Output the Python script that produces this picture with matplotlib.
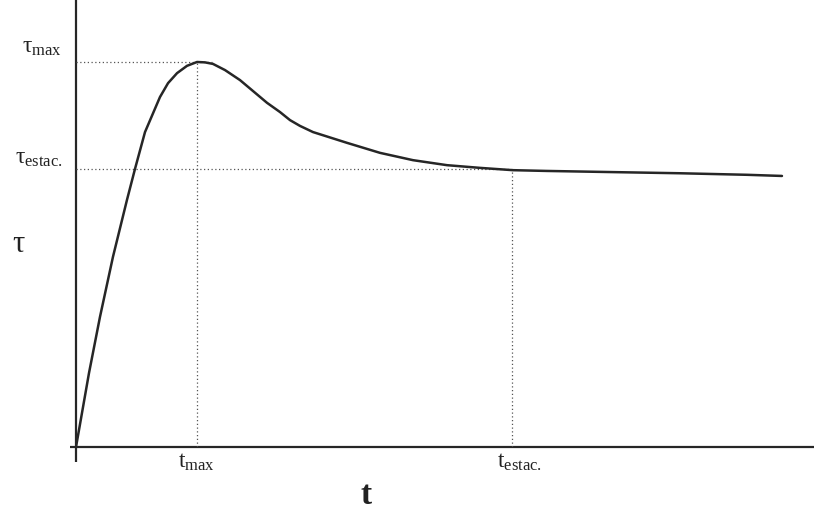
#!/usr/bin/env python3
"""Shear stress vs time sketch: overshoot to tau_max, then settles to tau_estac."""

import matplotlib.pyplot as plt
import numpy as np

plt.rcParams['mathtext.fontset'] = 'custom'
plt.rcParams['mathtext.rm'] = 'Liberation Serif'
plt.rcParams['mathtext.it'] = 'Liberation Serif'
plt.rcParams['font.family'] = ['Liberation Serif', 'DejaVu Serif']

# curve (arbitrary units)
t_vals = [0.0, 0.176, 0.325, 0.501, 0.691, 0.799, 0.935, 1.138, 1.247, 1.369,
          1.504, 1.64, 1.748, 1.856, 2.019, 2.222, 2.588, 2.764, 2.9, 3.035,
          3.211, 3.672, 4.119, 4.566, 5.027, 5.474, 5.921, 6.382, 7.276, 8.184,
          9.092, 9.566]
tau_vals = [0.0, 0.192, 0.338, 0.494, 0.642, 0.722, 0.818, 0.909, 0.945, 0.971,
            0.99, 1.0, 0.999, 0.995, 0.979, 0.953, 0.894, 0.87, 0.849, 0.834,
            0.818, 0.79, 0.764, 0.745, 0.732, 0.725, 0.719, 0.717, 0.714, 0.711,
            0.707, 0.704]

# marked points
t_max = 1.64
tau_max = 1.0
t_estac = 5.91
tau_estac = 0.722

T_LIM = 10.0
TAU_LIM = 1.161
INK = '#262626'
DOT = '#555555'

fig = plt.figure(figsize=(8.14, 5.13), dpi=100)
ax = fig.add_axes([76 / 814, 66 / 513, 738 / 814, 447 / 513])
ax.set_xlim(0, T_LIM)
ax.set_ylim(0, TAU_LIM)
ax.axis('off')

# axes drawn by hand so they can poke past the origin
ax.plot([-0.08, T_LIM], [0, 0], color=INK, lw=1.6, clip_on=False,
        solid_capstyle='butt')
ax.plot([0, 0], [-0.04, TAU_LIM], color=INK, lw=1.6, clip_on=False,
        solid_capstyle='butt')

# dotted guide lines
dots = dict(color=DOT, lw=0.9, linestyle=(0, (1, 2)))
ax.plot([0, t_max + 0.2], [tau_max, tau_max], **dots)
ax.plot([t_max, t_max], [0, tau_max], **dots)
ax.plot([0, t_estac], [tau_estac, tau_estac], **dots)
ax.plot([t_estac, t_estac], [0, tau_estac], **dots)

ax.plot(np.array(t_vals), np.array(tau_vals), color=INK, lw=1.8,
        solid_joinstyle='round', solid_capstyle='round')

# tick-like labels
lab = dict(textcoords='offset pixels', fontsize=17, color='#222222',
           annotation_clip=False)
ax.annotate(r'$\tau_{\mathrm{max}}$', xy=(0, tau_max), xytext=(-54, 9),
            ha='left', va='baseline', **lab)
ax.annotate(r'$\tau_{\mathrm{estac.}}$', xy=(0, tau_estac), xytext=(-61, 5),
            ha='left', va='baseline', **lab)
ax.annotate(r'$\mathrm{t}_{\mathrm{max}}$', xy=(t_max, 0), xytext=(-19, -21),
            ha='left', va='baseline', **lab)
ax.annotate(r'$\mathrm{t}_{\mathrm{estac.}}$', xy=(t_estac, 0), xytext=(-15, -21),
            ha='left', va='baseline', **lab)

# axis names
fig.text(18 / 814, 1 - 245 / 513, 'τ', fontsize=22, color='#222222',
         ha='center', va='center')
fig.text(366 / 814, 1 - 495 / 513, 't', fontsize=24, fontweight='bold',
         color='#222222', ha='center', va='center')

fig.savefig('out.png', dpi=100)
